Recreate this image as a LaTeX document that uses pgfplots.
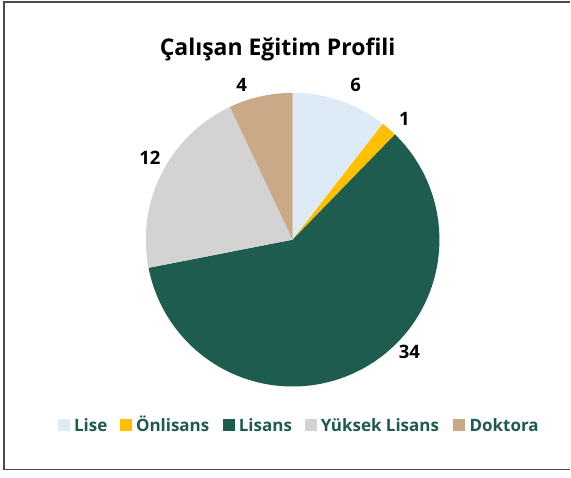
\documentclass[border=0pt]{standalone}
\usepackage{pgfplots}
\usepackage{pgfplotstable}
\pgfplotsset{compat=1.18}
\usepackage{fontspec}
\setmainfont{Open Sans}
\definecolor{lise}{HTML}{DDEBF7}
\definecolor{onl}{HTML}{FFC000}
\definecolor{lis}{HTML}{1F5C50}
\definecolor{yl}{HTML}{D3D3D3}
\definecolor{dok}{HTML}{CAA987}
\definecolor{legtxt}{HTML}{1E5B4F}
\definecolor{frame}{HTML}{4A4A4A}
\pgfplotstableread{
label value
Lise 6
Onlisans 1
Lisans 34
YuksekLisans 12
Doktora 4
}\piedata
\pgfplotstablegetelem{0}{value}\of\piedata \let\vA\pgfplotsretval
\pgfplotstablegetelem{1}{value}\of\piedata \let\vB\pgfplotsretval
\pgfplotstablegetelem{2}{value}\of\piedata \let\vC\pgfplotsretval
\pgfplotstablegetelem{3}{value}\of\piedata \let\vD\pgfplotsretval
\pgfplotstablegetelem{4}{value}\of\piedata \let\vE\pgfplotsretval
\pgfmathsetmacro{\tot}{\vA+\vB+\vC+\vD+\vE}
\pgfmathsetmacro{\aA}{90}
\pgfmathsetmacro{\aB}{\aA-360*\vA/\tot}
\pgfmathsetmacro{\aC}{\aB-360*\vB/\tot}
\pgfmathsetmacro{\aD}{\aC-360*\vC/\tot}
\pgfmathsetmacro{\aE}{\aD-360*\vD/\tot}
\pgfmathsetmacro{\aF}{\aE-360*\vE/\tot}
\def\cx{293}\def\cy{238}\def\rr{147}
\begin{document}
\begin{tikzpicture}
\begin{axis}[width=571pt,height=478pt,scale only axis,
  xmin=0,xmax=571,ymin=0,ymax=478,hide axis,clip=false]
\fill[white] (axis cs:0,0) rectangle (axis cs:571,478);
\draw[frame,line width=1.5pt] (axis cs:571,476) -- (axis cs:4,476) -- (axis cs:4,8) -- (axis cs:571,8);
\addplot[fill=lise,draw=none,domain=\aB:\aA,samples=60,variable=\t]
  ({\cx+\rr*cos(\t)},{\cy+\rr*sin(\t)}) -- (axis cs:\cx,\cy) -- cycle;
\addplot[fill=onl,draw=none,domain=\aC:\aB,samples=10,variable=\t]
  ({\cx+\rr*cos(\t)},{\cy+\rr*sin(\t)}) -- (axis cs:\cx,\cy) -- cycle;
\addplot[fill=lis,draw=none,domain=\aD:\aC,samples=200,variable=\t]
  ({\cx+\rr*cos(\t)},{\cy+\rr*sin(\t)}) -- (axis cs:\cx,\cy) -- cycle;
\addplot[fill=yl,draw=none,domain=\aE:\aD,samples=80,variable=\t]
  ({\cx+\rr*cos(\t)},{\cy+\rr*sin(\t)}) -- (axis cs:\cx,\cy) -- cycle;
\addplot[fill=dok,draw=none,domain=\aF:\aE,samples=40,variable=\t]
  ({\cx+\rr*cos(\t)},{\cy+\rr*sin(\t)}) -- (axis cs:\cx,\cy) -- cycle;
% title
\node[font=\fontsize{23}{26}\selectfont\bfseries,anchor=base] at (axis cs:278,422) {Çalışan Eğitim Profili};
% data labels
\begin{scope}[every node/.style={font=\fontsize{18.5}{20}\selectfont\bfseries}]
\node at (axis cs:356,393) {6};
\node at (axis cs:405,359) {1};
\node at (axis cs:410,126) {34};
\node at (axis cs:150,320) {12};
\node at (axis cs:242,393) {4};
\end{scope}
% legend
\begin{scope}[every node/.style={font=\fontsize{17}{19}\selectfont\bfseries,text=legtxt,anchor=base west,inner sep=0pt}]
\fill[lise] (axis cs:58,46) rectangle (axis cs:70,58);
\node at (axis cs:74,45.5) {Lise};
\fill[onl] (axis cs:120,46) rectangle (axis cs:132,58);
\node at (axis cs:136,45.5) {Önlisans};
\fill[lis] (axis cs:223,46) rectangle (axis cs:235,58);
\node at (axis cs:239,45.5) {Lisans};
\fill[yl] (axis cs:305,46) rectangle (axis cs:317,58);
\node at (axis cs:321,45.5) {Yüksek Lisans};
\fill[dok] (axis cs:454,46) rectangle (axis cs:466,58);
\node at (axis cs:470,45.5) {Doktora};
\end{scope}
\end{axis}
\end{tikzpicture}
\end{document}
